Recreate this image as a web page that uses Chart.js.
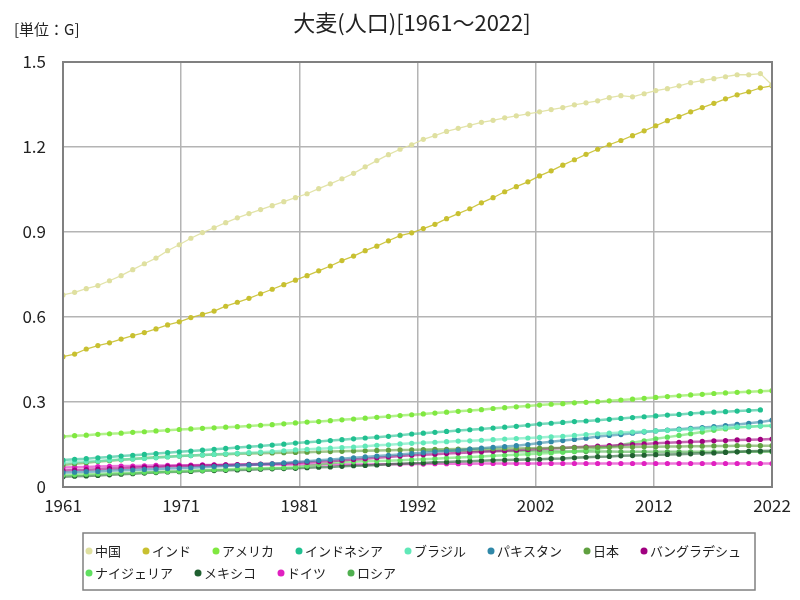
<!DOCTYPE html>
<html>
<head>
<meta charset="utf-8">
<script src="https://cdn.jsdelivr.net/npm/chart.js@4.4.1/dist/chart.umd.min.js"></script>
<style>
  html, body { margin: 0; padding: 0; background: #fff; }
  #wrap { width: 800px; height: 600px; }
</style>
</head>
<body>
<div id="wrap"><canvas id="barleyChart" width="800" height="600"></canvas></div>
<script>
const years = [];
for (let y = 1961; y <= 2022; y++) years.push(y);

const countries = ['中国', 'インド', 'アメリカ', 'インドネシア', 'ブラジル', 'パキスタン', '日本', 'バングラデシュ', 'ナイジェリア', 'メキシコ', 'ドイツ', 'ロシア'];
const colors = ['#dfe0a0', '#c8c030', '#80e840', '#20c090', '#60e8b8', '#3088a8', '#60a040', '#a00080', '#60e060', '#206030', '#e020c0', '#50b050'];

const china = [0.678, 0.687, 0.700, 0.711, 0.728, 0.746, 0.767, 0.788, 0.808, 0.834,
  0.855, 0.878, 0.898, 0.915, 0.933, 0.950, 0.965, 0.979, 0.993, 1.007,
  1.021, 1.035, 1.053, 1.070, 1.088, 1.107, 1.130, 1.152, 1.173, 1.192,
  1.208, 1.227, 1.240, 1.255, 1.266, 1.276, 1.287, 1.294, 1.303, 1.310,
  1.317, 1.324, 1.332, 1.339, 1.349, 1.356, 1.363, 1.374, 1.381, 1.377,
  1.388, 1.399, 1.406, 1.416, 1.427, 1.434, 1.441, 1.448, 1.455, 1.455,
  1.459, 1.419];
const india = [0.460, 0.469, 0.487, 0.499, 0.509, 0.522, 0.534, 0.545, 0.558, 0.572,
  0.583, 0.598, 0.609, 0.621, 0.638, 0.652, 0.666, 0.682, 0.698, 0.714,
  0.730, 0.746, 0.763, 0.780, 0.799, 0.815, 0.834, 0.850, 0.869, 0.887,
  0.897, 0.912, 0.927, 0.947, 0.965, 0.982, 1.003, 1.021, 1.042, 1.060,
  1.077, 1.098, 1.116, 1.136, 1.155, 1.174, 1.192, 1.208, 1.223, 1.240,
  1.257, 1.275, 1.293, 1.307, 1.324, 1.339, 1.354, 1.370, 1.384, 1.395,
  1.409, 1.416];
const usa = [0.178, 0.181, 0.183, 0.186, 0.188, 0.190, 0.193, 0.195, 0.198, 0.200,
  0.203, 0.205, 0.207, 0.209, 0.211, 0.213, 0.215, 0.218, 0.220, 0.223,
  0.226, 0.229, 0.231, 0.234, 0.237, 0.240, 0.243, 0.246, 0.249, 0.252,
  0.255, 0.258, 0.261, 0.264, 0.267, 0.270, 0.273, 0.277, 0.280, 0.283,
  0.286, 0.289, 0.292, 0.294, 0.297, 0.299, 0.301, 0.304, 0.307, 0.310,
  0.313, 0.316, 0.319, 0.322, 0.325, 0.327, 0.330, 0.332, 0.334, 0.336,
  0.338, 0.340];
const indonesia = [0.095, 0.098, 0.100, 0.103, 0.106, 0.109, 0.112, 0.115, 0.118, 0.121,
  0.124, 0.127, 0.130, 0.133, 0.136, 0.139, 0.142, 0.145, 0.148, 0.151,
  0.155, 0.158, 0.161, 0.164, 0.167, 0.170, 0.173, 0.176, 0.179, 0.183,
  0.187, 0.190, 0.193, 0.196, 0.199, 0.202, 0.205, 0.208, 0.211, 0.214,
  0.218, 0.222, 0.225, 0.228, 0.231, 0.233, 0.236, 0.239, 0.242, 0.245,
  0.248, 0.251, 0.254, 0.256, 0.259, 0.262, 0.264, 0.266, 0.268, 0.270,
  0.272, null];
const brazil = [0.086, 0.088, 0.090, 0.092, 0.095, 0.097, 0.099, 0.101, 0.103, 0.106,
  0.109, 0.111, 0.113, 0.115, 0.117, 0.119, 0.121, 0.123, 0.125, 0.128,
  0.131, 0.133, 0.135, 0.137, 0.139, 0.141, 0.144, 0.147, 0.149, 0.152,
  0.154, 0.156, 0.158, 0.160, 0.162, 0.163, 0.165, 0.167, 0.169, 0.171,
  0.173, 0.175, 0.177, 0.179, 0.182, 0.185, 0.188, 0.190, 0.192, 0.194,
  0.196, 0.198, 0.200, 0.202, 0.204, 0.206, 0.208, 0.210, 0.212, 0.213,
  0.215, 0.216];
const pakistan = [0.051, 0.052, 0.054, 0.055, 0.057, 0.059, 0.060, 0.062, 0.063, 0.065,
  0.066, 0.068, 0.070, 0.072, 0.074, 0.076, 0.078, 0.080, 0.082, 0.085,
  0.088, 0.091, 0.094, 0.097, 0.100, 0.103, 0.106, 0.109, 0.112, 0.115,
  0.118, 0.121, 0.124, 0.127, 0.130, 0.134, 0.137, 0.140, 0.143, 0.146,
  0.150, 0.155, 0.160, 0.164, 0.168, 0.172, 0.178, 0.182, 0.185, 0.190,
  0.194, 0.198, 0.201, 0.204, 0.207, 0.210, 0.213, 0.217, 0.221, 0.225,
  0.229, 0.236];
const japan = [0.078, 0.082, 0.086, 0.090, 0.093, 0.096, 0.099, 0.102, 0.105, 0.107,
  0.109, 0.111, 0.113, 0.115, 0.116, 0.117, 0.118, 0.119, 0.120, 0.121,
  0.122, 0.123, 0.124, 0.125, 0.126, 0.127, 0.128, 0.129, 0.130, 0.131,
  0.131, 0.132, 0.133, 0.133, 0.134, 0.134, 0.135, 0.135, 0.136, 0.136,
  0.137, 0.137, 0.138, 0.138, 0.139, 0.139, 0.140, 0.140, 0.141, 0.141,
  0.142, 0.142, 0.143, 0.143, 0.144, 0.144, 0.145, 0.145, 0.146, 0.146,
  0.146, 0.146];
const bangladesh = [0.058, 0.060, 0.061, 0.063, 0.065, 0.066, 0.068, 0.070, 0.071, 0.073,
  0.074, 0.075, 0.076, 0.077, 0.078, 0.079, 0.080, 0.081, 0.082, 0.083,
  0.085, 0.087, 0.089, 0.091, 0.094, 0.097, 0.100, 0.103, 0.106, 0.109,
  0.112, 0.114, 0.116, 0.118, 0.120, 0.122, 0.124, 0.126, 0.128, 0.130,
  0.132, 0.134, 0.136, 0.138, 0.140, 0.142, 0.144, 0.146, 0.148, 0.150,
  0.152, 0.154, 0.156, 0.158, 0.160, 0.161, 0.163, 0.164, 0.166, 0.167,
  0.168, 0.169];
const nigeria = [0.042, 0.043, 0.045, 0.046, 0.048, 0.049, 0.050, 0.052, 0.053, 0.055,
  0.056, 0.058, 0.059, 0.061, 0.062, 0.064, 0.065, 0.066, 0.067, 0.068,
  0.070, 0.074, 0.079, 0.084, 0.087, 0.089, 0.091, 0.092, 0.093, 0.094,
  0.096, 0.098, 0.100, 0.102, 0.104, 0.106, 0.108, 0.110, 0.112, 0.114,
  0.116, 0.118, 0.120, 0.123, 0.126, 0.130, 0.135, 0.141, 0.148, 0.156,
  0.163, 0.170, 0.176, 0.182, 0.188, 0.194, 0.200, 0.205, 0.210, 0.213,
  0.215, 0.216];
const mexico = [0.036, 0.038, 0.039, 0.041, 0.043, 0.045, 0.047, 0.049, 0.051, 0.053,
  0.054, 0.055, 0.057, 0.058, 0.059, 0.060, 0.061, 0.063, 0.064, 0.065,
  0.066, 0.068, 0.070, 0.071, 0.073, 0.075, 0.076, 0.078, 0.080, 0.082,
  0.084, 0.085, 0.087, 0.088, 0.090, 0.091, 0.093, 0.094, 0.095, 0.096,
  0.097, 0.098, 0.100, 0.101, 0.103, 0.105, 0.107, 0.108, 0.110, 0.111,
  0.112, 0.114, 0.115, 0.116, 0.117, 0.119, 0.120, 0.122, 0.124, 0.126,
  0.127, 0.128];
const germany = [0.069, 0.070, 0.071, 0.072, 0.073, 0.074, 0.074, 0.075, 0.076, 0.076,
  0.077, 0.077, 0.078, 0.078, 0.078, 0.078, 0.078, 0.079, 0.079, 0.079,
  0.079, 0.079, 0.079, 0.079, 0.079, 0.079, 0.079, 0.080, 0.080, 0.080,
  0.081, 0.081, 0.082, 0.082, 0.082, 0.082, 0.083, 0.083, 0.083, 0.083,
  0.083, 0.083, 0.083, 0.083, 0.083, 0.083, 0.083, 0.083, 0.083, 0.083,
  0.083, 0.083, 0.083, 0.083, 0.083, 0.083, 0.083, 0.083, 0.083, 0.083,
  0.083, 0.083];
const russia = [null, null, null, null, null, null, null, null, null, null,
  null, null, null, null, null, null, null, null, null, null,
  null, null, null, null, null, null, null, null, null, null,
  null, 0.129, 0.129, 0.128, 0.128, 0.128, 0.127, 0.127, 0.127, 0.126,
  0.126, 0.126, 0.126, 0.125, 0.125, 0.125, 0.125, 0.125, 0.124, 0.124,
  0.124, 0.124, 0.124, 0.124, 0.124, 0.124, 0.124, 0.124, 0.124, 0.124,
  0.124, 0.124];

const seriesValues = [china, india, usa, indonesia, brazil, pakistan, japan, bangladesh, nigeria, mexico, germany, russia];
const yTicks = [0, 0.3, 0.6, 0.9, 1.2, 1.5];
const xTickCount = 6;

const FONT = '"Noto Sans CJK JP", "Noto Sans", sans-serif';

function withAlpha(hex, a) {
    const n = parseInt(hex.slice(1), 16);
    return `rgba(${(n >> 16) & 255}, ${(n >> 8) & 255}, ${n & 255}, ${a})`;
}

const datasets = countries.map((name, i) => ({
    label: name,
    data: seriesValues[i].map((v, j) => ({ x: years[j], y: v })),
    borderColor: withAlpha(colors[i], i < 2 ? 0.9 : 0.6),
    backgroundColor: colors[i],
    pointBackgroundColor: colors[i],
    pointBorderWidth: 0,
    pointRadius: 2.6,
    borderWidth: i < 2 ? 1.3 : 2.5,
    tension: 0
}));

// frame, title, unit and boxed legend
const decorPlugin = {
    id: 'decor',
    afterDraw(chart) {
        const { ctx, chartArea } = chart;
        ctx.save();
        ctx.strokeStyle = '#808080';
        ctx.lineWidth = 2;
        ctx.strokeRect(chartArea.left, chartArea.top, chartArea.right - chartArea.left, chartArea.bottom - chartArea.top);

        ctx.fillStyle = '#222';
        ctx.textBaseline = 'middle';
        ctx.textAlign = 'center';
        ctx.font = '22px ' + FONT;
        ctx.fillText('大麦(人口)[1961～2022]', 412, 23);
        ctx.textAlign = 'left';
        ctx.font = '15px ' + FONT;
        ctx.fillText('[単位：G]', 14, 29);

        // legend
        ctx.strokeStyle = '#808080';
        ctx.lineWidth = 1.5;
        ctx.strokeRect(83, 533, 672, 57);
        ctx.font = '13px ' + FONT;
        const rows = [[0, 8], [8, 12]];
        const rowY = [551, 573];
        rows.forEach((r, ri) => {
            let x = 86;
            for (let i = r[0]; i < r[1]; i++) {
                ctx.fillStyle = colors[i];
                ctx.beginPath();
                ctx.arc(x + 3, rowY[ri], 3.5, 0, Math.PI * 2);
                ctx.fill();
                ctx.fillStyle = '#222';
                ctx.fillText(countries[i], x + 9, rowY[ri]);
                x += 9 + ctx.measureText(countries[i]).width + 22;
            }
        });
        ctx.restore();
    }
};

const ctx = document.getElementById('barleyChart');
new Chart(ctx, {
    type: 'line',
    data: { datasets },
    options: {
        responsive: false,
        animation: false,
        layout: { padding: { left: 0, right: 28, top: 62, bottom: 83 } },
        plugins: {
            legend: { display: false },
            title: { display: false },
            tooltip: { enabled: false }
        },
        scales: {
            x: {
                type: 'linear',
                min: years[0],
                max: years[years.length - 1],
                afterBuildTicks: (axis) => {
                    const span = years[years.length - 1] - years[0];
                    axis.ticks = [];
                    for (let k = 0; k <= xTickCount; k++) {
                        axis.ticks.push({ value: years[0] + span * k / xTickCount });
                    }
                },
                afterFit: (scale) => { scale.height = 30; },
                ticks: {
                    callback: (v) => String(Math.round(v)),
                    font: { family: FONT, size: 17 },
                    color: '#222',
                    padding: 8,
                    maxRotation: 0,
                    autoSkip: false
                },
                grid: { color: '#b4b4b4', lineWidth: 1.5, drawTicks: false },
                border: { display: false }
            },
            y: {
                min: 0,
                max: 1.5,
                afterBuildTicks: (axis) => {
                    axis.ticks = yTicks.map(v => ({ value: v }));
                },
                afterFit: (scale) => { scale.width = 63; },
                ticks: {
                    callback: (v) => v === 0 ? '0' : v.toFixed(1),
                    font: { family: FONT, size: 17 },
                    color: '#222',
                    padding: 17
                },
                grid: { color: '#b4b4b4', lineWidth: 1.5, drawTicks: false },
                border: { display: false }
            }
        }
    },
    plugins: [decorPlugin]
});
</script>
</body>
</html>
